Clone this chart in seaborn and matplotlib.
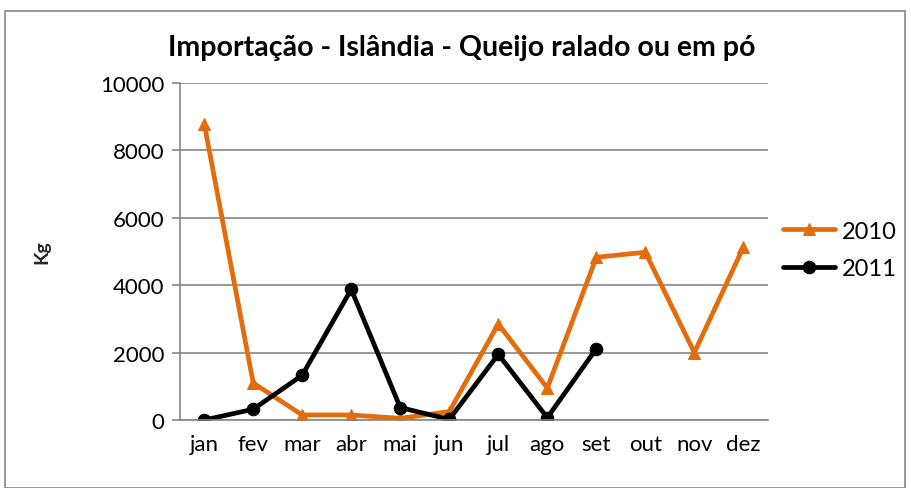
import pandas as pd
import numpy as np
import seaborn as sns
import matplotlib.pyplot as plt
from matplotlib.patches import Rectangle

sns.set_style('white')
plt.rcParams['font.family'] = ['Lato', 'DejaVu Sans']
plt.rcParams['text.color'] = 'black'
plt.rcParams['xtick.labelcolor'] = 'black'
plt.rcParams['ytick.labelcolor'] = 'black'

months = ['jan', 'fev', 'mar', 'abr', 'mai', 'jun', 'jul', 'ago', 'set', 'out', 'nov', 'dez']
v2010 = [8800, 1100, 150, 150, 50, 250, 2850, 950, 4830, 4980, 2000, 5130]
v2011 = [0, 320, 1330, 3880, 370, 20, 1950, 70, 2120]

df = pd.concat([
    pd.DataFrame({'mes': months, 'kg': v2010, 'ano': '2010'}),
    pd.DataFrame({'mes': months[:len(v2011)], 'kg': v2011, 'ano': '2011'}),
])
df['pos'] = df['mes'].map({m: i for i, m in enumerate(months)})

fig = plt.figure(figsize=(9.12, 4.89), dpi=100)
ax = fig.add_axes([0.197, 0.139, 0.645, 0.689])

cores = {'2010': '#E46C0A', '2011': '#000000'}
marcas = {'2010': '^', '2011': 'o'}
for ano, g in df.groupby('ano'):
    sns.lineplot(data=g, x='pos', y='kg', ax=ax, color=cores[ano], marker=marcas[ano],
                 markersize=9, linewidth=3.4, markeredgecolor=cores[ano], label=ano)

ax.set_xlim(-0.5, 11.5)
ax.set_ylim(0, 10000)
ax.set_yticks(np.arange(0, 10001, 2000))
ax.set_xticks(range(12))
ax.set_xticklabels(months)
ax.set_xticks(np.arange(-0.5, 12, 1), minor=True)
ax.tick_params(axis='x', which='major', length=0, pad=10, labelsize=16)
ax.tick_params(axis='x', which='minor', length=6, color='#868686', width=1.2)
ax.tick_params(axis='y', length=6, color='#868686', width=1.2, labelsize=16, left=True, pad=5)
ax.yaxis.grid(True, color='#868686', linewidth=1.2)
ax.xaxis.grid(False)
for s in ['top', 'right']:
    ax.spines[s].set_visible(False)
ax.spines['left'].set_color('#868686')
ax.spines['bottom'].set_color('#868686')
ax.spines['left'].set_linewidth(1.2)
ax.spines['bottom'].set_linewidth(1.2)

ax.set_xlabel('')
ax.set_ylabel('Kg', fontsize=14, fontweight='bold', labelpad=36)
ax.set_title('Importação - Islândia - Queijo ralado ou em pó', fontsize=20.5,
             fontweight='bold', pad=20, x=0.48)

ax.legend(loc='center left', bbox_to_anchor=(0.99, 0.505), frameon=False,
          fontsize=17, handlelength=2.2, handletextpad=0.3, labelspacing=0.7)

fig.patches.append(Rectangle((0.006, 0.0), 0.986, 0.975, transform=fig.transFigure,
                             fill=False, edgecolor='#868686', linewidth=1.2))

fig.savefig('out.png', dpi=100)
